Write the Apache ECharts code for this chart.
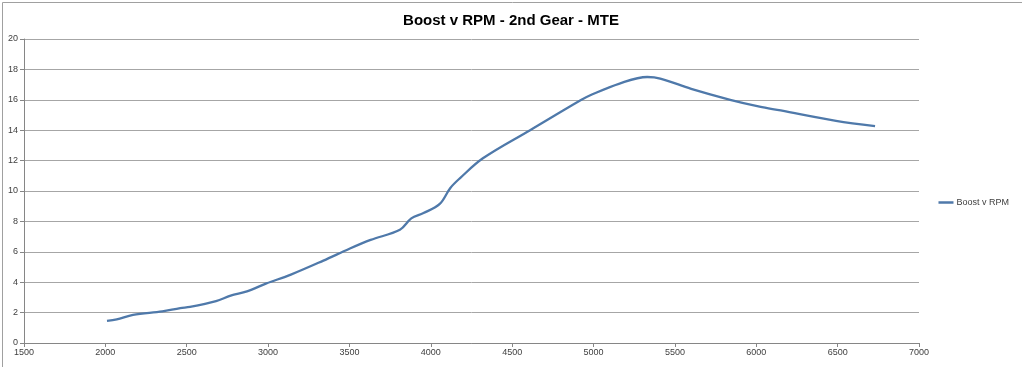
<!DOCTYPE html>
<html><head><meta charset="utf-8">
<script src="https://cdn.jsdelivr.net/npm/echarts@6/dist/echarts.min.js"></script>
<style>html,body{margin:0;padding:0;background:#fff}#c{width:1022px;height:367px}</style>
</head><body><div id="c"></div>
<script>
const titleText = 'Boost v RPM - 2nd Gear - MTE';
const seriesName = 'Boost v RPM';
const rpm = [2010,2070,2170,2350,2460,2520,2680,2770,2870,2990,3140,3340,3500,3630,3810,3880,3955,4055,4120,4180,4320,4610,4920,4980,5160,5330,5410,5600,5840,6020,6150,6490,6730];
const boost = [1.45,1.55,1.85,2.08,2.3,2.37,2.75,3.12,3.4,3.92,4.5,5.42,6.2,6.78,7.45,8.2,8.55,9.15,10.2,10.85,12.15,14.0,15.97,16.3,17.07,17.5,17.4,16.72,16.0,15.55,15.3,14.62,14.27];
const xTicks = [1500,2000,2500,3000,3500,4000,4500,5000,5500,6000,6500,7000];
const yTicks = [0,2,4,6,8,10,12,14,16,18,20];

const chart = echarts.init(document.getElementById('c'), null, {renderer:'canvas'});
const labelFont = {fontFamily:'Liberation Sans Narrow, Liberation Sans, sans-serif', fontSize:9, color:'#404040'};
chart.setOption({
  animation:false,
  backgroundColor:'#fff',
  title:{text:titleText,left:'center',top:8,textStyle:{fontFamily:'Liberation Sans Narrow, Liberation Sans, sans-serif',fontWeight:'bold',fontSize:15,color:'#000'}},
  legend:{orient:'vertical',right:8,top:193,icon:'rect',itemWidth:15,itemHeight:2.5,itemGap:4,
    textStyle:{fontFamily:'Liberation Sans Narrow, Liberation Sans, sans-serif',fontSize:9,color:'#404040',padding:[0,0,0,-2]},
    data:[seriesName]},
  grid:{left:24,right:103,top:39,bottom:24,containLabel:false},
  xAxis:{type:'value',min:xTicks[0],max:xTicks[xTicks.length-1],interval:500,
    axisLine:{show:true,lineStyle:{color:'#868686',width:1}},
    axisTick:{show:true,length:4,lineStyle:{color:'#868686'}},
    axisLabel:Object.assign({margin:5,formatter:v=>String(v)},labelFont),
    splitLine:{show:false}},
  yAxis:{type:'value',min:yTicks[0],max:yTicks[yTicks.length-1],interval:2,
    axisLine:{show:true,lineStyle:{color:'#868686',width:1}},
    axisTick:{show:true,length:4,lineStyle:{color:'#868686'}},
    axisLabel:Object.assign({margin:6,formatter:v=>String(v)},labelFont),
    splitLine:{show:true,lineStyle:{color:'#a6a6a6',width:1}}},
  series:[{name:seriesName,type:'line',smooth:0.35,showSymbol:false,
    data:rpm.map((r,i)=>[r,boost[i]]),
    lineStyle:{color:'#4f79aa',width:2.3},itemStyle:{color:'#4f79aa'}}],
  graphic:[{type:'rect',left:0,top:0,shape:{x:0.5,y:0.5,width:1020,height:380},style:{fill:null,stroke:'#a0a0a0',lineWidth:1},silent:true}]
});
</script></body></html>
